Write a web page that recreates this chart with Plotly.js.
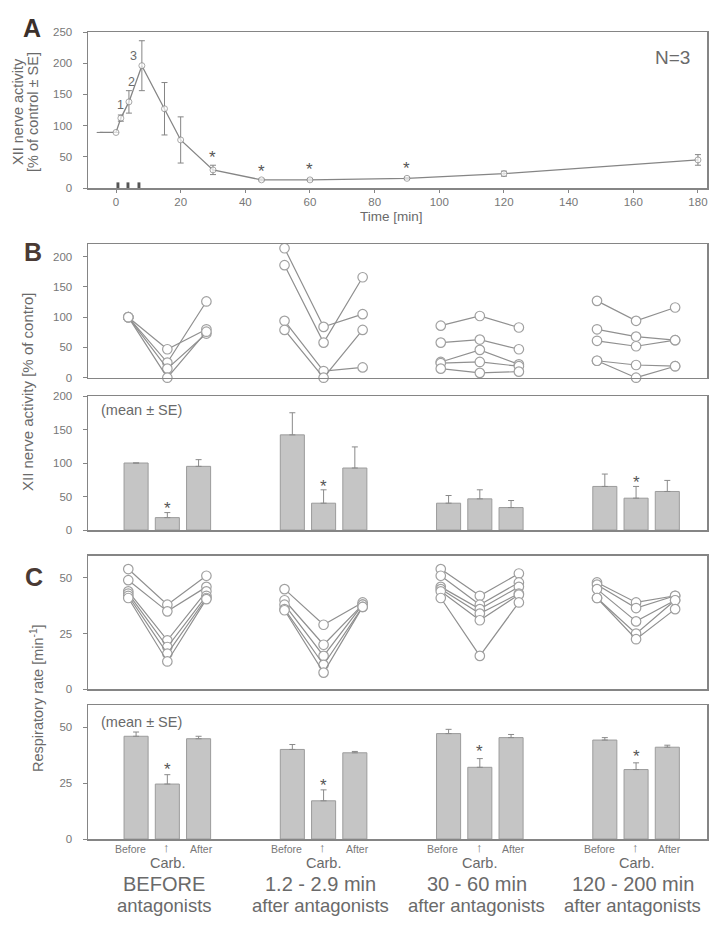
<!DOCTYPE html>
<html>
<head>
<meta charset="utf-8">
<script src="https://cdn.plot.ly/plotly-3.0.1.min.js"></script>
<style>html,body{margin:0;padding:0;background:#fff;}#chart{width:710px;height:927px;}</style>
</head>
<body>
<div id="chart"></div>
<script>
// ---------- Panel A data ----------
const timeMin = [-5, 0, 1.5, 4, 8, 15, 20, 30, 45, 60, 90, 120, 180];
const xiiMean = [89, 89, 112, 138, 196, 127, 77, 29, 13, 13, 15.5, 23, 45];
const xiiSE   = [0, 0, 5, 18, 40, 42, 37, 7.5, 1.5, 1.5, 1.5, 4, 8.5];
const carbTimes = [0.6, 3.7, 7.1];
const carbMarkHeight = [9, 9, 9];
const doseLabels = ['1', '2', '3'];
const doseLabelX = [1.4, 4.8, 5.3];
const doseLabelY = [133, 170, 212];
const starTimesA = [30, 45, 60, 90];
const starYA = [57, 34, 38, 39.5];
const timeTicks = [0, 20, 40, 60, 80, 100, 120, 140, 160, 180];

// ---------- Groups ----------
const groupTop = ['BEFORE', '1.2 - 2.9 min', '30 - 60 min', '120 - 200 min'];
const groupBottom = ['antagonists', 'after antagonists', 'after antagonists', 'after antagonists'];
const condLabels = ['Before', '\u2191', 'After'];

// ---------- Panel B individual (XII % of control): [before, carb, after] per animal ----------
const bIndG1 = [[100, 47, 80], [100, 25, 126], [100, 15, 73], [100, 0, 76]];
const bIndG2 = [[214, 84, 105], [186, 58, 166], [94, 11, 17], [79, 0, 79]];
const bIndG3 = [[86, 102, 83], [58, 63, 47], [26, 46, 22], [24, 26, 19], [15, 8, 10]];
const bIndG4 = [[127, 94, 116], [80, 68, 62], [61, 52, 62], [28, 21, 19], [28, 0, 19]];

// ---------- Panel B means ----------
const bMean = [100, 18.5, 95, 142, 40, 92.5, 40, 46.5, 33.5, 65, 47.5, 57.5];
const bSE   = [0, 7.5, 10, 33, 20, 31.5, 11.5, 13.5, 10.5, 18.5, 17.5, 16.5];
const bStarGroups = [0, 1, 3];
const bStarY = [40, 72.4, 78];

// ---------- Panel C individual (resp. rate) ----------
const cIndG1 = [[54, 38, 51], [49, 35, 46], [44, 22, 44], [43, 19, 42], [42, 16, 41], [41, 12.5, 40.5]];
const cIndG2 = [[45, 29, 39], [40, 20, 38], [38, 15, 38], [36, 11, 37], [35.5, 7.5, 37]];
const cIndG3 = [[54, 42, 52], [51, 38, 48], [46, 36, 46], [45, 34, 43], [44, 31, 42.5], [41, 15, 39]];
const cIndG4 = [[48, 39, 42], [47, 36.5, 42], [45, 30.5, 40], [41, 25, 40], [41, 22.5, 36]];

// ---------- Panel C means ----------
const cMean = [46, 24.6, 44.9, 40.1, 17.1, 38.6, 47.2, 32.1, 45.4, 44.3, 31.1, 41.1];
const cSE   = [1.9, 4.2, 1.1, 2.2, 4.9, 0.6, 1.9, 3.9, 1.4, 1.1, 3.0, 0.9];
const cStarGroups = [0, 1, 2, 3];
const cStarY = [33.3, 26.2, 41.3, 39];

// ---------- styling ----------
const FONT = 'Liberation Sans, Arial, sans-serif';
const LINEC = '#858585';
const TXT = '#6a6a6a';
const groupCenter = g => 5 * g + 1;
const barPos = [];
for (let g = 0; g < 4; g++) for (let k = -1; k <= 1; k++) barPos.push(groupCenter(g) + k);
const H = 927, W = 710;
const py = v => 1 - v / H;

const traces = [];

// Panel A
traces.push({
  x: timeMin, y: xiiMean, xaxis: 'x', yaxis: 'y', type: 'scatter', mode: 'lines+markers',
  line: {color: LINEC, width: 1.3},
  marker: {size: timeMin.map(t => t < 0 ? 0 : 6), color: '#fff', line: {color: LINEC, width: 1}},
  error_y: {type: 'data', array: xiiSE, visible: true, color: LINEC, thickness: 1, width: 3},
  hoverinfo: 'skip', showlegend: false
});
traces.push({
  x: carbTimes, y: carbMarkHeight, xaxis: 'x', yaxis: 'y', type: 'bar', width: 0.9,
  marker: {color: '#555', line: {width: 0}}, showlegend: false, hoverinfo: 'skip'
});

function addInd(groups, yaxis, xaxis, msize) {
  groups.forEach((grp, g) => {
    const c = groupCenter(g);
    grp.forEach(vals => {
      traces.push({
        x: [c - 1.25, c, c + 1.25], y: vals, xaxis: xaxis, yaxis: yaxis,
        type: 'scatter', mode: 'lines+markers',
        line: {color: '#909090', width: 1.2},
        marker: {size: msize, color: '#fff', line: {color: '#a0a0a0', width: 1.2}},
        showlegend: false, hoverinfo: 'skip', cliponaxis: false
      });
    });
  });
}
addInd([bIndG1, bIndG2, bIndG3, bIndG4], 'y2', 'x2', 9.5);
addInd([cIndG1, cIndG2, cIndG3, cIndG4], 'y4', 'x4', 9.5);

function addBars(vals, se, yaxis, xaxis) {
  traces.push({
    x: barPos, y: vals, xaxis: xaxis, yaxis: yaxis, type: 'bar', width: 0.77,
    marker: {color: '#c5c5c5', line: {color: '#9c9c9c', width: 1}},
    error_y: {type: 'data', symmetric: false, array: se, arrayminus: se.map(() => 0),
              visible: true, color: '#8a8a8a', thickness: 1, width: 3},
    showlegend: false, hoverinfo: 'skip'
  });
}
addBars(bMean, bSE, 'y3', 'x3');
addBars(cMean, cSE, 'y5', 'x5');

const xDom = [88 / W, 707 / W];
const catRange = [-1.539, 18.27];
function ax(extra) {
  return Object.assign({
    showline: true, mirror: true, linecolor: LINEC, linewidth: 1.5,
    showgrid: false, zeroline: false, ticks: 'outside', ticklen: 4, tickcolor: LINEC,
    tickfont: {family: FONT, size: 11.5, color: '#777'}, fixedrange: true
  }, extra);
}
function catAx(anchor) {
  return ax({domain: xDom, range: catRange, anchor: anchor, showticklabels: false, ticks: ''});
}

const layout = {
  width: W, height: H, margin: {l: 0, r: 0, t: 0, b: 0},
  paper_bgcolor: '#fff', plot_bgcolor: '#fff', showlegend: false, barmode: 'overlay',
  font: {family: FONT, color: TXT},
  xaxis: ax({domain: xDom, range: [-8.66, 182.8], anchor: 'y', tickvals: timeTicks, ticklen: 3, ticklabelstandoff: 0}),
  yaxis: ax({domain: [py(188), py(32)], range: [0, 250], tickvals: [0, 50, 100, 150, 200, 250], anchor: 'x', ticklabelstandoff: 8}),
  xaxis2: catAx('y2'),
  yaxis2: ax({domain: [py(377.7), py(244)], range: [0, 221], tickvals: [0, 50, 100, 150, 200], anchor: 'x2', ticklabelstandoff: 8}),
  xaxis3: catAx('y3'),
  yaxis3: ax({domain: [py(530), py(396)], range: [0, 200], tickvals: [0, 50, 100, 150, 200], anchor: 'x3', ticklabelstandoff: 8}),
  xaxis4: catAx('y4'),
  yaxis4: ax({domain: [py(689.3), py(555.7)], range: [0, 60], tickvals: [0, 25, 50], anchor: 'x4', ticklabelstandoff: 8}),
  xaxis5: catAx('y5'),
  yaxis5: ax({domain: [py(839), py(705)], range: [0, 60], tickvals: [0, 25, 50], anchor: 'x5', ticklabelstandoff: 8}),
  annotations: []
};

const ann = layout.annotations;
function paperText(text, x, y, size, opts) {
  ann.push(Object.assign({text: text, x: x / W, y: py(y), xref: 'paper', yref: 'paper',
    showarrow: false, xanchor: 'center', yanchor: 'middle',
    font: {family: FONT, size: size, color: TXT}}, opts || {}));
}
paperText('<b>A</b>', 32, 28, 25, {font: {family: FONT, size: 25, color: '#3b302b'}});
paperText('<b>B</b>', 33, 252, 25, {font: {family: FONT, size: 25, color: '#4a3a34'}});
paperText('<b>C</b>', 33.5, 577, 25, {font: {family: FONT, size: 25, color: '#4a3a34'}});
paperText('XII nerve activity', 18, 112, 14.5, {textangle: -90});
paperText('[% of control \u00b1 SE]', 33, 112, 14.5, {textangle: -90});
paperText('XII nerve activity [% of contro]', 28, 392, 15, {textangle: -90});
paperText('Respiratory rate [min<sup>-1</sup>]', 37, 698, 14.5, {textangle: -90});
paperText('N=3', 672, 57, 19);
paperText('Time [min]', 391, 216, 13.5);
paperText('(mean \u00b1 SE)', 141, 410, 14.5);
paperText('(mean \u00b1 SE)', 141, 722, 14.5);

doseLabels.forEach((t, i) => ann.push({text: t, x: doseLabelX[i], y: doseLabelY[i], xref: 'x', yref: 'y',
  showarrow: false, font: {family: FONT, size: 12.5, color: TXT}}));
function star(x, y, xr, yr) {
  ann.push({text: '*', x: x, y: y, xref: xr, yref: yr, showarrow: false, yshift: -5,
    font: {family: FONT, size: 17, color: '#555'}});
}
starTimesA.forEach((t, i) => star(t, starYA[i], 'x', 'y'));
bStarGroups.forEach((g, i) => star(groupCenter(g), bStarY[i], 'x3', 'y3'));
cStarGroups.forEach((g, i) => star(groupCenter(g), cStarY[i], 'x5', 'y5'));

const condOffset = [-1.18, -0.02, 1.08];
for (let g = 0; g < 4; g++) {
  const c = groupCenter(g);
  condLabels.forEach((t, k) => ann.push({text: t, x: c + condOffset[k], y: py(856.7), xref: 'x5', yref: 'paper',
    showarrow: false, font: {family: FONT, size: k === 1 ? 13 : 10.5, color: '#777'}}));
  ann.push({text: 'Carb.', x: c, y: py(873), xref: 'x5', yref: 'paper', showarrow: false,
    font: {family: FONT, size: 14.5, color: TXT}});
  ann.push({text: groupTop[g], x: c - 0.1, y: py(896.5), xref: 'x5', yref: 'paper', showarrow: false,
    font: {family: FONT, size: 20, color: TXT}});
  ann.push({text: groupBottom[g], x: c - 0.1, y: py(918), xref: 'x5', yref: 'paper', showarrow: false,
    font: {family: FONT, size: 18.5, color: TXT}});
}

Plotly.newPlot('chart', traces, layout, {staticPlot: true, displayModeBar: false});
</script>
</body>
</html>
